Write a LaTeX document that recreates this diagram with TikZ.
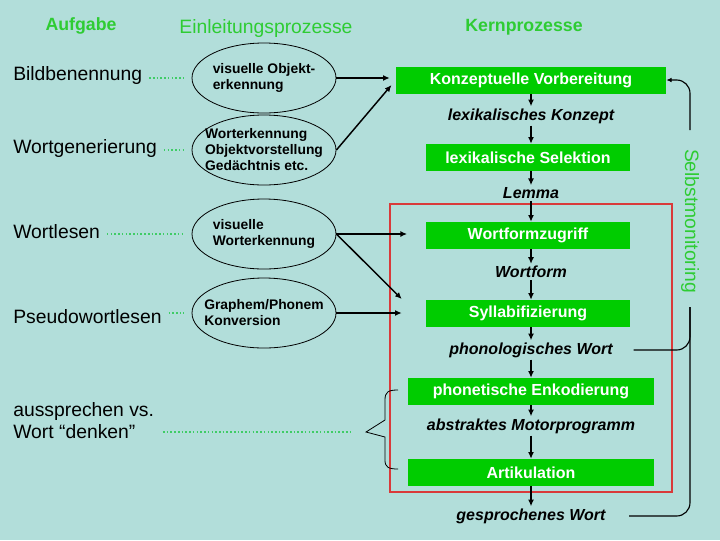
\documentclass[tikz,border=0pt]{standalone}
\usepackage{fontspec}
\setmainfont{Liberation Sans}
\usetikzlibrary{shapes.geometric,arrows.meta,calc}
\definecolor{bg}{HTML}{B2DEDA}
\definecolor{boxgreen}{HTML}{00CC00}
\definecolor{headgreen}{HTML}{2ECC33}
\definecolor{dotgreen}{HTML}{3FCC66}
\definecolor{framered}{HTML}{D93A3A}
\begin{document}
\begin{tikzpicture}[x=0.75pt,y=-0.75pt,
 head/.style={text=headgreen,inner sep=0pt,font=\fontsize{13.3}{16}\selectfont\bfseries},
 task/.style={anchor=west,inner sep=0pt,font=\fontsize{14.5}{16.5}\selectfont,align=left},
 proc/.style={ellipse,draw,line width=0.6pt,minimum width=108pt,minimum height=52.5pt,inner sep=0pt},
 ptext/.style={align=left,inner sep=0pt,font=\fontsize{10.4}{12}\selectfont\bfseries},
 core/.style={fill=boxgreen,text=white,minimum height=20.25pt,inner sep=0pt,font=\fontsize{12}{14}\selectfont\bfseries},
 inter/.style={font=\fontsize{12}{14}\selectfont\bfseries\itshape,inner sep=1.5pt},
 dotl/.style={dotgreen,line width=1.2pt,dash pattern=on 1.2pt off 1.6pt,shorten <=5pt,shorten >=5.5pt},
 arr/.style={-{Latex[length=5pt,width=4.5pt]},line width=1.1pt},
 fb/.style={black,line width=0.85pt,rounded corners=10pt}
]
\fill[bg] (0,0) rectangle (720,540);
\useasboundingbox (0,0) rectangle (720,540);

% headers
\node[head] (h1) at (81,26) {Aufgabe};
\node[head,font=\fontsize{14.5}{16}\selectfont] (h2) at (266,28) {Einleitungsprozesse};
\node[head] (h3) at (524,27) {Kernprozesse};

% tasks
\node[task] (l1) at (13,75) {Bildbenennung};
\node[task] (l2) at (13,148) {Wortgenerierung};
\node[task] (l3) at (13,232) {Wortlesen};
\node[task] (l4) at (13,317) {Pseudowortlesen};
\node[task] (l5) at (13,421) {aussprechen vs.\\Wort “denken”};
\coordinate (d5) at (352,432);

% ellipses
\node[proc] (e1) at (264,78) {};
\node[ptext] (e1t) at (e1) {visuelle Objekt-\\erkennung};
\node[proc] (e2) at (264,150) {};
\node[ptext] (e2t) at (e2) {Worterkennung\\Objektvorstellung\\Gedächtnis etc.};
\node[proc] (e3) at (264,234) {};
\node[ptext] (e3t) at (e3) {visuelle\\Worterkennung};
\node[proc] (e4) at (264,313) {};
\node[ptext] (e4t) at (e4) {Graphem/Phonem\\Konversion};

% core boxes
\node[core,minimum width=202.5pt] (b1) at (531,80) {Konzeptuelle Vorbereitung};
\node[inter] (t1) at (531,116) {lexikalisches Konzept};
\node[core,minimum width=153pt] (b2) at (528,157.5) {lexikalische Selektion};
\node[inter] (t2) at (531,193) {Lemma};
\node[core,minimum width=153pt] (b3) at (528,235.5) {Wortformzugriff};
\node[inter] (t3) at (531,272) {Wortform};
\node[core,minimum width=153pt] (b4) at (528,313.5) {Syllabifizierung};
\node[inter] (t4) at (531,350) {phonologisches Wort};
\node[core,minimum width=184.5pt] (b5) at (531,391.5) {phonetische Enkodierung};
\node[inter] (t5) at (531,426) {abstraktes Motorprogramm};
\node[core,minimum width=184.5pt] (b6) at (531,472.5) {Artikulation};
\node[inter] (t6) at (531,516) {gesprochenes Wort};

% red frame
\draw[framered,line width=1.5pt] (390,204) rectangle (672,492);

% dotted links
\draw[dotl] (l1.east |- e1.west) -- (e1.west);
\draw[dotl] (l2.east |- e2.west) -- (e2.west);
\draw[dotl] (l3.east |- e3.west) -- (e3.west);
\draw[dotl] (l4.east |- e4.west) -- (e4.west);
\draw[dotl,shorten >=0pt,shorten <=6.5pt] (l5.east |- d5) -- (d5);

% arrows from ellipses
\draw[arr,shorten >=4.5pt] (e1.east) -- (e1.east -| b1.west);
\draw[arr,shorten >=5pt] (e2.east) -- (b1.west);
\draw[arr,shorten >=14pt] (e3.east) -- (e3.east -| b3.west);
\draw[arr] (e3.east) -- ($(b4.west)+(-24,-14.5)$);
\draw[arr,shorten >=18pt] (e4.east) -- (e4.east -| b4.west);

% core chain
\draw[arr] (b1.south -| t1.north) -- (t1.north);
\draw[arr] (t1.south) -- (b2.north -| t1.south);
\draw[arr] (b2.south -| t2.north) -- (t2.north);
\draw[arr] (t2.south) -- (b3.north -| t2.south);
\draw[arr] (b3.south -| t3.north) -- (t3.north);
\draw[arr] (t3.south) -- (b4.north -| t3.south);
\draw[arr] (b4.south -| t4.north) -- (t4.north);
\draw[arr] (t4.south) -- (b5.north -| t4.south);
\draw[arr] (b5.south -| t5.north) -- (t5.north);
\draw[arr] (t5.south) -- (b6.north -| t5.south);
\draw[arr] (b6.south -| t6.north) -- (t6.north);

% brace
\draw[line width=0.6pt] (398,390) .. controls (388,390) and (385,392) .. (385,400) -- (385,420) -- (366,432) -- (385,437) -- (385,460) .. controls (385,467) and (388,469) .. (398,469);

% self monitoring
\node[rotate=-90,text=headgreen,inner sep=0pt,font=\fontsize{14.5}{16}\selectfont] (sm) at (690,221) {Selbstmonitoring};
\coordinate (smtop) at (690,130);
\coordinate (smbot) at (690,307);
\draw[fb,-{Latex[length=4pt,width=3.5pt]}] (smtop) |- (b1.east);
\draw[fb,shorten <=14pt] (t4.east) -| (smbot);
\draw[fb,shorten <=16pt] (t6.east) -| (smbot);
\end{tikzpicture}
\end{document}
